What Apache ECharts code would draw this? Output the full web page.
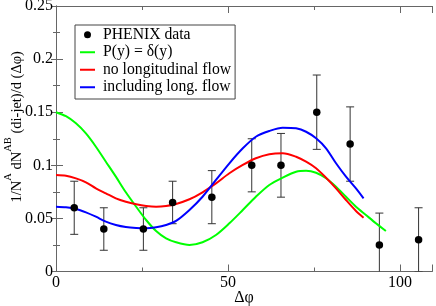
<!DOCTYPE html>
<html><head><meta charset="utf-8">
<script src="https://cdn.jsdelivr.net/npm/echarts@6/dist/echarts.min.js"></script>
<style>html,body{margin:0;padding:0;background:#fff}#c{width:436px;height:306px}</style>
</head><body><div id="c"></div>
<script>
// ---- data ----
const pointX = [5.3, 13.9, 25.4, 33.9, 45.3, 56.9, 65.4, 75.8, 85.5, 94.0, 105.4];
const pointY = [0.06, 0.04, 0.04, 0.065, 0.07, 0.10, 0.10, 0.15, 0.12, 0.025, 0.03];
const pointErr = [0.025, 0.02, 0.02, 0.02, 0.025, 0.025, 0.03, 0.035, 0.035, 0.03, 0.03];

const greenX = [0, 2.9, 5.8, 8.7, 11.6, 14.5, 17.4, 20.3, 23.3, 26.2, 29.1, 32, 34.9, 38.8, 42.6, 46.5, 50.4, 54.3, 58.1, 62, 65.9, 69.8, 72.7, 75.6, 78.5, 81.4, 84.3, 87.2, 90.1, 93, 95.9];
const greenY = [0.150, 0.1462, 0.1395, 0.130, 0.1175, 0.1034, 0.0893, 0.0746, 0.061, 0.0485, 0.0381, 0.0312, 0.0275, 0.025, 0.0275, 0.0344, 0.0454, 0.0579, 0.0704, 0.0815, 0.0884, 0.094, 0.0949, 0.093, 0.0878, 0.0799, 0.0704, 0.061, 0.0532, 0.0454, 0.0381];

const redX = [0, 2.9, 5.8, 8.7, 11.6, 14.5, 17.4, 20.3, 23.3, 26.2, 29.1, 32, 34.9, 38.8, 42.6, 46.5, 50.4, 54.3, 58.1, 62, 65.9, 69.8, 72.7, 75.6, 78.5, 81.4, 84.3, 87.2, 89.4];
const redY = [0.0909, 0.0902, 0.0877, 0.084, 0.0783, 0.0736, 0.0689, 0.0657, 0.0633, 0.0617, 0.061, 0.0617, 0.0636, 0.068, 0.0746, 0.083, 0.0925, 0.1003, 0.1066, 0.1104, 0.1113, 0.108, 0.1034, 0.0972, 0.0883, 0.0783, 0.0673, 0.057, 0.0507];

const blueX = [0, 2.9, 5.8, 8.7, 11.6, 14.5, 17.4, 20.3, 23.3, 26.2, 29.1, 32, 34.9, 38.8, 42.6, 46.5, 50.4, 54.3, 58.1, 62, 65.9, 69.8, 72.7, 75.6, 78.5, 81.4, 84.3, 87.2, 89.4];
const blueY = [0.061, 0.0604, 0.0589, 0.0557, 0.0516, 0.0469, 0.0438, 0.0419, 0.041, 0.0407, 0.0416, 0.0438, 0.0476, 0.0579, 0.0704, 0.0862, 0.1019, 0.116, 0.1269, 0.1323, 0.1354, 0.1348, 0.1316, 0.1254, 0.116, 0.1019, 0.0893, 0.0783, 0.0689];

const seriesNames = ['PHENIX data', 'P(y) = δ(y)', 'no longitudinal flow', 'including long. flow'];
const xTickValues = [0, 50, 100];
const xTickLabels = ['0', '50', '100'];
const yTickValues = [0, 0.05, 0.1, 0.15, 0.2, 0.25];
const yTickLabels = ['0', '0.05', '0.1', '0.15', '0.2', '0.25'];

// ---- chart ----
const FONT = 'Liberation Serif';
const AX = '#666';
const XMAX = 109.3;
const LINE_ICON = 'path://M0 0H15V2H0Z';
function pick(vals, labels) {
  return v => { for (let i = 0; i < vals.length; i++) if (Math.abs(v - vals[i]) < 1e-9) return labels[i]; return ''; };
}
function zip(a, b) { return a.map((v, i) => [v, b[i]]); }

function xAx(pos, interval, len, labels) {
  return {
    type: 'value', position: pos, min: 0, max: XMAX, interval: interval,
    axisLine: { show: true, lineStyle: { color: AX, width: 1 } },
    axisTick: { show: true, inside: true, length: len, lineStyle: { color: AX } },
    axisLabel: labels ? { show: true, formatter: pick(xTickValues, xTickLabels), fontFamily: FONT, fontSize: 16, color: '#000', margin: 3 } : { show: false },
    splitLine: { show: false }
  };
}

const chart = echarts.init(document.getElementById('c'), null, { renderer: 'canvas' });
const xMain = xAx('bottom', 50, 7, true);
xMain.name = 'Δφ';
xMain.nameLocation = 'middle';
xMain.nameGap = 17.5;
xMain.nameMoveOverlap = false;
xMain.nameTextStyle = { fontFamily: FONT, fontSize: 16, color: '#000', lineHeight: 18 };

chart.setOption({
  animation: false,
  backgroundColor: '#fff',
  grid: { left: 56, top: 6, width: 376, height: 265.5, containLabel: false, outerBoundsMode: 'none' },
  xAxis: [xMain, xAx('bottom', 25, 4, false), xAx('top', 50, 7, false), xAx('top', 25, 4, false)],
  yAxis: [
    {
      type: 'value', position: 'left', min: 0, max: 0.25, interval: 0.05,
      axisLine: { show: true, lineStyle: { color: AX, width: 1 } },
      axisTick: { show: true, inside: true, length: 7, lineStyle: { color: AX } },
      minorTick: { show: true, splitNumber: 2, length: 4, lineStyle: { color: AX } },
      axisLabel: { formatter: pick(yTickValues, yTickLabels), fontFamily: FONT, fontSize: 16, color: '#000', margin: 3 },
      splitLine: { show: false }, minorSplitLine: { show: false },
      name: '{n|1/N}{s|A}{n| dN}{s|AB}{n| (di-jet)/d (Δφ)}',
      nameLocation: 'middle', nameGap: 31, nameMoveOverlap: false,
      nameTextStyle: {
        fontFamily: FONT, fontSize: 14.5, color: '#000', padding: [0, 0, 0, 24],
        rich: {
          n: { fontFamily: FONT, fontSize: 14.5, color: '#000', lineHeight: 22, verticalAlign: 'bottom' },
          s: { fontFamily: FONT, fontSize: 10.5, color: '#000', lineHeight: 11, verticalAlign: 'top' }
        }
      }
    },
    {
      type: 'value', position: 'right', min: 0, max: 0.25, interval: 0.05,
      axisLine: { show: true, lineStyle: { color: AX, width: 1 } },
      axisTick: { show: true, inside: true, length: 5, lineStyle: { color: AX } },
      minorTick: { show: true, splitNumber: 2, length: 3, lineStyle: { color: AX } },
      axisLabel: { show: false },
      splitLine: { show: false }, minorSplitLine: { show: false }
    }
  ],
  legend: {
    orient: 'vertical', left: 75, top: 25,
    itemWidth: 15, itemHeight: 7, itemGap: 0,
    padding: [1, 4, 3, 5],
    borderColor: '#444', borderWidth: 1, backgroundColor: '#fff',
    textStyle: { fontFamily: FONT, fontSize: 15.7, color: '#000', lineHeight: 17.5, padding: [0, 0, 0, 3] },
    data: [
      { name: seriesNames[0], icon: 'circle' },
      { name: seriesNames[1], icon: LINE_ICON },
      { name: seriesNames[2], icon: LINE_ICON },
      { name: seriesNames[3], icon: LINE_ICON }
    ]
  },
  series: [
    {
      name: 'errors', type: 'custom', clip: true, z: 3,
      data: pointX.map((x, i) => [x, pointY[i] - pointErr[i], pointY[i] + pointErr[i]]),
      encode: { x: 0, y: [1, 2] },
      renderItem: function (params, api) {
        const x = api.value(0), lo = api.value(1), hi = api.value(2);
        const a = api.coord([x, lo]), b = api.coord([x, hi]);
        const cw = 4, st = { stroke: '#333', lineWidth: 1 };
        return { type: 'group', children: [
          { type: 'line', shape: { x1: a[0], y1: a[1], x2: b[0], y2: b[1] }, style: st },
          { type: 'line', shape: { x1: b[0] - cw, y1: b[1], x2: b[0] + cw, y2: b[1] }, style: st },
          { type: 'line', shape: { x1: a[0] - cw, y1: a[1], x2: a[0] + cw, y2: a[1] }, style: st }
        ] };
      }
    },
    {
      name: seriesNames[1], type: 'line', data: zip(greenX, greenY), smooth: 0.3,
      symbol: 'none', showSymbol: false, z: 4,
      lineStyle: { color: '#00ff00', width: 2 }, itemStyle: { color: '#00ff00' }
    },
    {
      name: seriesNames[2], type: 'line', data: zip(redX, redY), smooth: 0.3,
      symbol: 'none', showSymbol: false, z: 4,
      lineStyle: { color: '#ff0000', width: 2 }, itemStyle: { color: '#ff0000' }
    },
    {
      name: seriesNames[3], type: 'line', data: zip(blueX, blueY), smooth: 0.3,
      symbol: 'none', showSymbol: false, z: 4,
      lineStyle: { color: '#0000ff', width: 2 }, itemStyle: { color: '#0000ff' }
    },
    {
      name: seriesNames[0], type: 'scatter', data: zip(pointX, pointY),
      symbol: 'circle', symbolSize: 7.5, z: 5,
      itemStyle: { color: '#000', opacity: 1 }
    }
  ]
});
</script></body></html>
